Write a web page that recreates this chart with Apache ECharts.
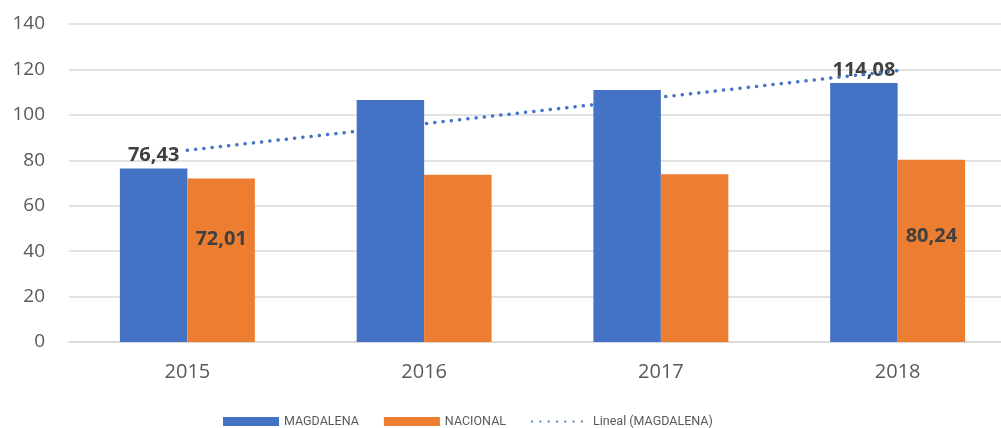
<!DOCTYPE html>
<html>
<head>
<meta charset="utf-8">
<script src="https://cdn.jsdelivr.net/npm/echarts@6/dist/echarts.min.js"></script>
<style>
html, body { margin: 0; padding: 0; background: #fff; }
#chart { width: 1001px; height: 428px; }
</style>
</head>
<body>
<div id="chart"></div>
<script>
const years = ['2015', '2016', '2017', '2018']
const magdalena = [76.43, 106.5, 110.9, 114.08]
const nacional = [72.01, 73.6, 73.9, 80.24]
// linea de tendencia
const lineal = [84.4, 96.1, 107.8, 119.5]
const yTicks = [0, 20, 40, 60, 80, 100, 120, 140]
// solo se etiquetan 2015 y 2018
const labelled = [0, 3]
const nacionalOffsets = [[0, -21], null, null, [0, -15]]

const labelFont = {
  fontFamily: 'Open Sans',
  fontWeight: 'bold',
  fontSize: 20,
  color: '#404040'
}

function withLabels(values, labelOpt, offsets) {
  return values.map((v, i) => {
    if (labelled.indexOf(i) < 0) return v
    const lab = Object.assign({ show: true }, labelOpt)
    if (offsets && offsets[i]) lab.offset = offsets[i]
    return { value: v, label: lab }
  })
}

const fmt = p => String(p.value.toFixed(2)).replace('.', ',')

const chart = echarts.init(document.getElementById('chart'))
chart.setOption({
  animation: false,
  textStyle: { fontFamily: 'Open Sans' },
  grid: {
    left: 69, right: -15, top: 24, bottom: 86,
    containLabel: false,
    outerBoundsMode: 'none'
  },
  legend: {
    left: 218,
    top: 410,
    itemWidth: 56,
    itemHeight: 9,
    itemGap: 25,
    textStyle: { fontSize: 12.5, color: '#595959', fontFamily: 'Roboto' },
    data: [
      { name: 'MAGDALENA', icon: 'rect' },
      { name: 'NACIONAL', icon: 'rect' },
      { name: 'Lineal (MAGDALENA)', itemStyle: { opacity: 0 } }
    ]
  },
  xAxis: {
    type: 'category',
    data: years,
    axisLine: { lineStyle: { color: '#d9d9d9', width: 1.5 } },
    axisTick: { show: false },
    axisLabel: { color: '#595959', fontSize: 20, margin: 20 }
  },
  yAxis: {
    type: 'value',
    min: yTicks[0],
    max: yTicks[yTicks.length - 1],
    interval: 20,
    axisLine: { show: false },
    axisTick: { show: false },
    axisLabel: { color: '#595959', fontSize: 19, margin: 24 },
    splitLine: { lineStyle: { color: '#d9d9d9', width: 1.5 } }
  },
  series: [
    {
      name: 'MAGDALENA',
      type: 'bar',
      barWidth: '28.5%',
      barGap: '0%',
      itemStyle: { color: '#4472c4' },
      data: withLabels(magdalena, Object.assign({ position: 'top', distance: 3, formatter: fmt }, labelFont))
    },
    {
      name: 'NACIONAL',
      type: 'bar',
      barWidth: '28.5%',
      itemStyle: { color: '#ed7d31' },
      data: withLabels(nacional, Object.assign({ position: 'inside', formatter: fmt }, labelFont), nacionalOffsets)
    },
    {
      name: 'Lineal (MAGDALENA)',
      type: 'line',
      data: lineal,
      symbol: 'none',
      z: 3,
      itemStyle: { color: '#4472c4' },
      lineStyle: { color: '#4472c4', width: 3.5, type: [0.1, 8.2], cap: 'round' }
    }
  ]
})
</script>
</body>
</html>
